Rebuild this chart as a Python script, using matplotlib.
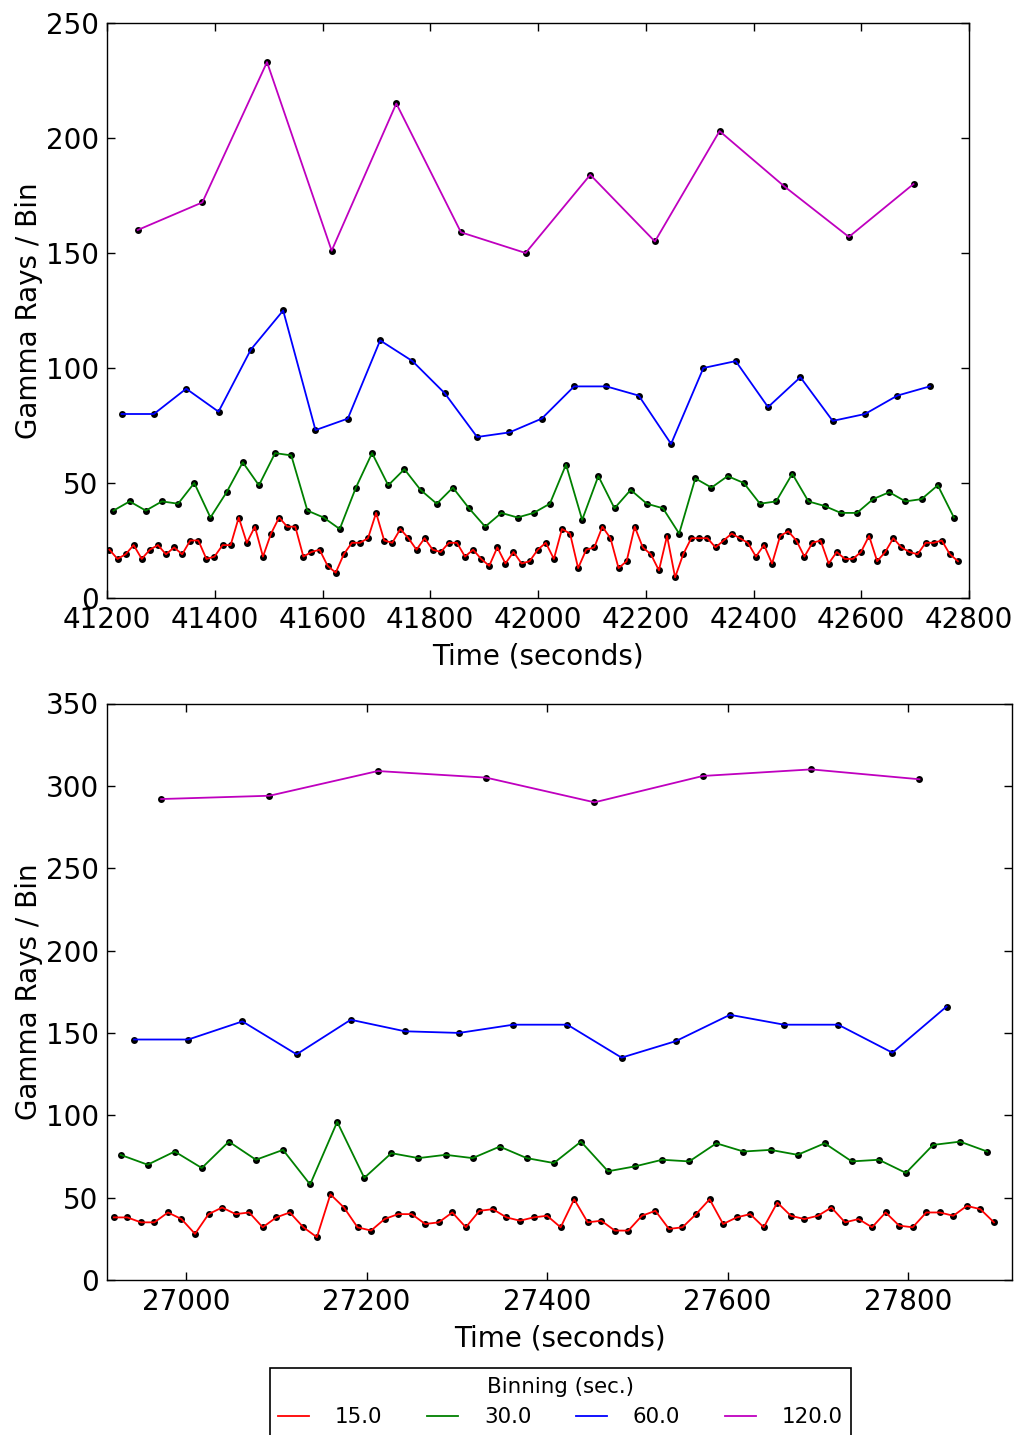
import numpy as np
import matplotlib
matplotlib.use("Agg")
import matplotlib.pyplot as plt

# ---------------- data ----------------
bin_widths = [15.0, 30.0, 60.0, 120.0]
colors = ['#ff0000', '#008000', '#0000ff', '#bf00bf']

# top panel (bin edges start)
top_start = 41197.0
top_red = [21, 17, 19, 23, 17, 21, 23, 19, 22, 19, 25, 25, 17, 18, 23, 23, 35, 24, 31, 18,
           28, 35, 31, 31, 18, 20, 21, 14, 11, 19, 24, 24, 26, 37, 25, 24, 30,
           26, 21, 26, 21, 20, 24, 24, 18, 21, 17, 14, 22, 15, 20, 15, 16, 21, 24, 17, 30,
           28, 13, 21, 22, 31, 26, 13, 16, 31, 22, 19, 12, 27, 9,
           19, 26, 26, 26, 22, 25, 28, 26, 24, 18, 23, 15, 27, 29, 25, 18, 24, 25, 15, 20,
           17, 17, 20, 27, 16, 20, 26, 22, 20, 19, 24, 24, 25, 19, 16]
top_green = [38, 42, 38, 42, 41, 50, 35, 46, 59, 49, 63, 62, 38, 35, 30, 48, 63, 49,
             56, 47, 41, 48, 39, 31, 37, 35, 37, 41, 58, 34, 53, 39, 47, 41, 39, 28,
             52, 48, 53, 50, 41, 42, 54, 42, 40, 37, 37, 43, 46, 42, 43, 49, 35]
top_blue = [80, 80, 91, 81, 108, 125, 73, 78, 112, 103, 89, 70, 72, 78, 92, 92, 88, 67,
            100, 103, 83, 96, 77, 80, 88, 92]
top_magenta = [160, 172, 233, 151, 215, 159, 150, 184, 155, 203, 179, 157, 180]

# bottom panel
bot_start = 26912.5
bot_red = [38, 38, 35, 35, 41, 37, 28, 40, 44, 40, 41, 32, 38, 41, 32, 26, 52, 44, 32, 30,
           37, 40, 40, 34, 35, 41, 32, 42, 43, 38, 36, 38, 39, 32, 49, 35, 36, 30, 30, 39,
           42, 31, 32, 40, 49, 34, 38, 40, 32, 47, 39, 37, 39, 44, 35, 37, 32, 41, 33, 32,
           41, 41, 39, 45, 43, 35]
bot_green = [76, 70, 78, 68, 84, 73, 79, 58, 96, 62, 77, 74, 76, 74, 81, 74, 71, 84, 66, 69,
             73, 72, 83, 78, 79, 76, 83, 72, 73, 65, 82, 84, 78]
bot_blue = [146, 146, 157, 137, 158, 151, 150, 155, 155, 135, 145, 161, 155, 155, 138, 166]
bot_magenta = [292, 294, 309, 305, 290, 306, 310, 304]

top_xlim = (41200, 42800)
top_ylim = (0, 250)
bot_xlim = (26912.5, 27915)
bot_ylim = (0, 350)

xlabel = "Time (seconds)"
ylabel = "Gamma Rays / Bin"
legend_title = "Binning (sec.)"

# ---------------- figure ----------------
W, H = 1021, 1435
fig = plt.figure(figsize=(W / 100, H / 100), dpi=100)

def frac(l, r, t, b):
    return [l / W, 1 - b / H, (r - l) / W, (b - t) / H]

ax1 = fig.add_axes(frac(107, 969, 23, 598))
ax2 = fig.add_axes(frac(107, 1012, 703.5, 1280))

def draw(ax, start, series, xlim, ylim):
    handles = []
    for bw, vals, c in zip(bin_widths, series, colors):
        t = start + bw / 2 + bw * np.arange(len(vals))
        ax.plot(t, vals, 'o', color='k', markersize=5.0, markeredgewidth=0, zorder=2)
        h, = ax.plot(t, vals, '-', color=c, linewidth=1.3, zorder=3, label=str(bw))
        handles.append(h)
    ax.set_xlim(*xlim)
    ax.set_ylim(*ylim)
    ax.tick_params(direction='in', top=True, right=True, length=6, width=1,
                   labelsize=20, pad=6)
    for s in ax.spines.values():
        s.set_linewidth(1.0)
    ax.set_xlabel(xlabel, fontsize=20, labelpad=6)
    ax.set_ylabel(ylabel, fontsize=20, labelpad=2)
    return handles

draw(ax1, top_start, [top_red, top_green, top_blue, top_magenta], top_xlim, top_ylim)
ax1.set_xticks(np.arange(41200, 42801, 200))
ax1.set_yticks(np.arange(0, 251, 50))
hs = draw(ax2, bot_start, [bot_red, bot_green, bot_blue, bot_magenta], bot_xlim, bot_ylim)
ax2.set_xticks(np.arange(27000, 27801, 200))
ax2.set_yticks(np.arange(0, 351, 50))

leg = fig.legend(handles=hs, labels=[str(b) for b in bin_widths], loc='upper center',
                 bbox_to_anchor=(560.5 / W, 1 - 1368 / H), ncol=4, title=legend_title,
                 fontsize=15.4, title_fontsize=15.4, handlelength=1.45, handletextpad=1.2,
                 columnspacing=2.1, borderaxespad=0, borderpad=0.4, fancybox=False,
                 framealpha=1, edgecolor='k')
leg.get_frame().set_linewidth(1.2)

fig.savefig("out.png", dpi=100)
